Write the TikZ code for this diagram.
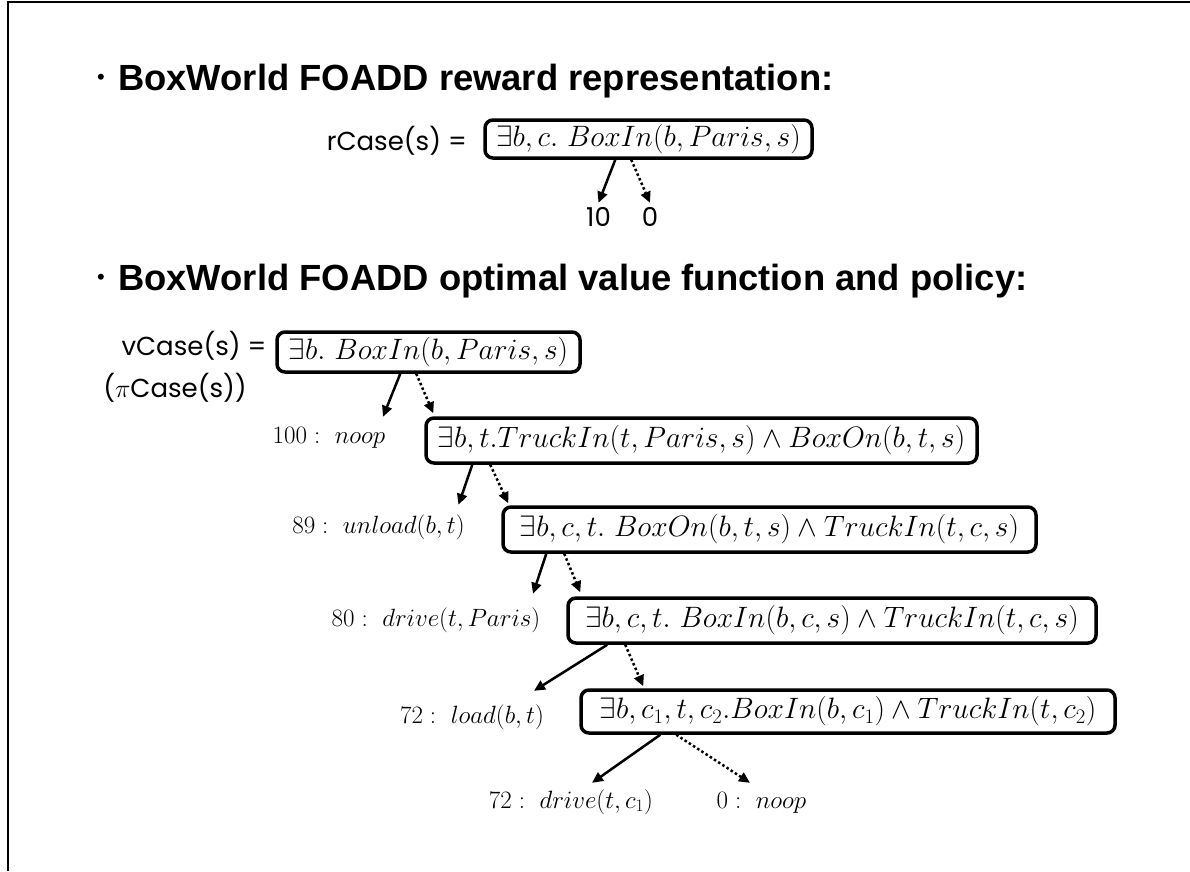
\RequirePackage{fix-cm}
\documentclass[tikz,border=0pt]{standalone}
\usepackage{fontspec}
\newfontfamily\headfont{Liberation Sans}
\newfontfamily\casefont{Poppins}
\usetikzlibrary{arrows.meta}
\tikzset{
  ddbox/.style={draw, line width=3.5pt, rounded corners=8pt, inner sep=0pt,
    font=\fontsize{29.5}{34}\selectfont},
  leaf/.style={inner sep=0pt, text height=18pt, text depth=6pt,
    font=\fontsize{25}{30}\selectfont},
  casetext/.style={inner sep=0pt, font=\casefont\fontsize{26}{30}\selectfont},
  heading/.style={anchor=base west, inner sep=0pt,
    font=\headfont\bfseries\fontsize{36.4}{40}\selectfont},
  hi/.style={line width=2.5pt},
  lo/.style={line width=2.5pt, dash pattern=on 2.5pt off 2.5pt},
  >={Triangle[length=11pt,width=10pt]}
}
\begin{document}
\begin{tikzpicture}[x=1pt, y=-1pt]
    \useasboundingbox (0,0) rectangle (1190,871);

    % Slide frame
    \draw[line width=2pt] (8,871) -- (8,2) -- (1190,2);

    % Reward representation
    \node[font=\headfont\fontsize{22}{22}\selectfont] (dot1) at (101,79) {•};
    \node[heading] (head1) at (118,90) {BoxWorld FOADD reward representation:};

    \node[casetext, anchor=east] (rcase) at (467,141) {rCase(s) =};
    \node[ddbox, minimum width=327pt, minimum height=38pt] (r0) at (648.5,139)
        {$\exists b, c.\ BoxIn(b, Paris, s)$};
    \node[casetext, text height=18pt, text depth=0pt] (r10) at (598.5,217) {10};
    \node[casetext, text height=18pt, text depth=0pt] (r00) at (650,217) {0};

    \draw[hi, ->] ([xshift=132pt]r0.south west) -- ([yshift=5pt]r10.north);
    \draw[lo, ->] ([xshift=148pt]r0.south west) -- ([yshift=5pt]r00.north);

    % Optimal value function and policy
    \node[font=\headfont\fontsize{22}{22}\selectfont] (dot2) at (101,279) {•};
    \node[heading] (head2) at (118,290) {BoxWorld FOADD optimal value function and policy:};

    \node[casetext] (vcase) at (194,346) {vCase(s) =};
    \node[casetext] (picase) at (175,388) {($\pi$Case(s))};

    \node[ddbox, minimum width=303pt, minimum height=40pt] (v1) at (428.5,352)
        {$\exists b.\ BoxIn(b, Paris, s)$};
    \node[ddbox, minimum width=551pt, minimum height=45pt] (v2) at (701.5,440.5)
        {$\exists b, t. TruckIn(t, Paris, s) \wedge BoxOn(b, t, s)$};
    \node[ddbox, minimum width=533pt, minimum height=45pt] (v3) at (769.5,529.5)
        {$\exists b, c, t.\ BoxOn(b, t, s) \wedge TruckIn(t, c, s)$};
    \node[ddbox, minimum width=528pt, minimum height=45pt] (v4) at (832,620.5)
        {$\exists b, c, t.\ BoxIn(b, c, s) \wedge TruckIn(t, c, s)$};
    \node[ddbox, minimum width=534pt, minimum height=43pt] (v5) at (848,711.5)
        {$\exists b, c_1, t, c_2. BoxIn(b, c_1) \wedge TruckIn(t, c_2)$};

    \node[leaf] (l100) at (329,437) {$100:\ noop$};
    \node[leaf] (l89) at (378.5,527) {$89:\ unload(b, t)$};
    \node[leaf] (l80) at (436,620) {$80:\ drive(t, Paris)$};
    \node[leaf] (l72) at (472,717) {$72:\ load(b, t)$};
    \node[leaf] (l72d) at (571,802) {$72:\ drive(t, c_1)$};
    \node[leaf] (l0) at (761.5,802) {$0:\ noop$};

    % true branches
    \draw[hi, ->] ([xshift=125pt]v1.south west) -- ([xshift=54pt, yshift=8pt]l100.north);
    \draw[hi, ->] ([xshift=48pt]v2.south west) -- ([xshift=80pt, yshift=10pt]l89.north);
    \draw[hi, ->] ([xshift=45pt]v3.south west) -- ([xshift=97pt, yshift=14pt]l80.north);
    \draw[hi, ->] ([xshift=41pt]v4.south west) -- ([xshift=62pt, yshift=14pt]l72.north);
    \draw[hi, ->] ([xshift=81pt]v5.south west) -- ([xshift=21pt, yshift=7pt]l72d.north);

    % false branches
    \draw[lo, ->] ([xshift=141pt]v1.south west) -- ([xshift=9pt, yshift=3pt]v2.north west);
    \draw[lo, ->] ([xshift=66pt]v2.south west) -- ([xshift=7pt, yshift=2pt]v3.north west);
    \draw[lo, ->] ([xshift=63pt]v3.south west) -- ([xshift=14pt, yshift=4pt]v4.north west);
    \draw[lo, ->] ([xshift=59pt]v4.south west) -- ([xshift=64pt, yshift=2pt]v5.north west);
    \draw[lo, ->] ([xshift=97pt]v5.south west) -- ([xshift=-11.5pt, yshift=7pt]l0.north);

\end{tikzpicture}
\end{document}
